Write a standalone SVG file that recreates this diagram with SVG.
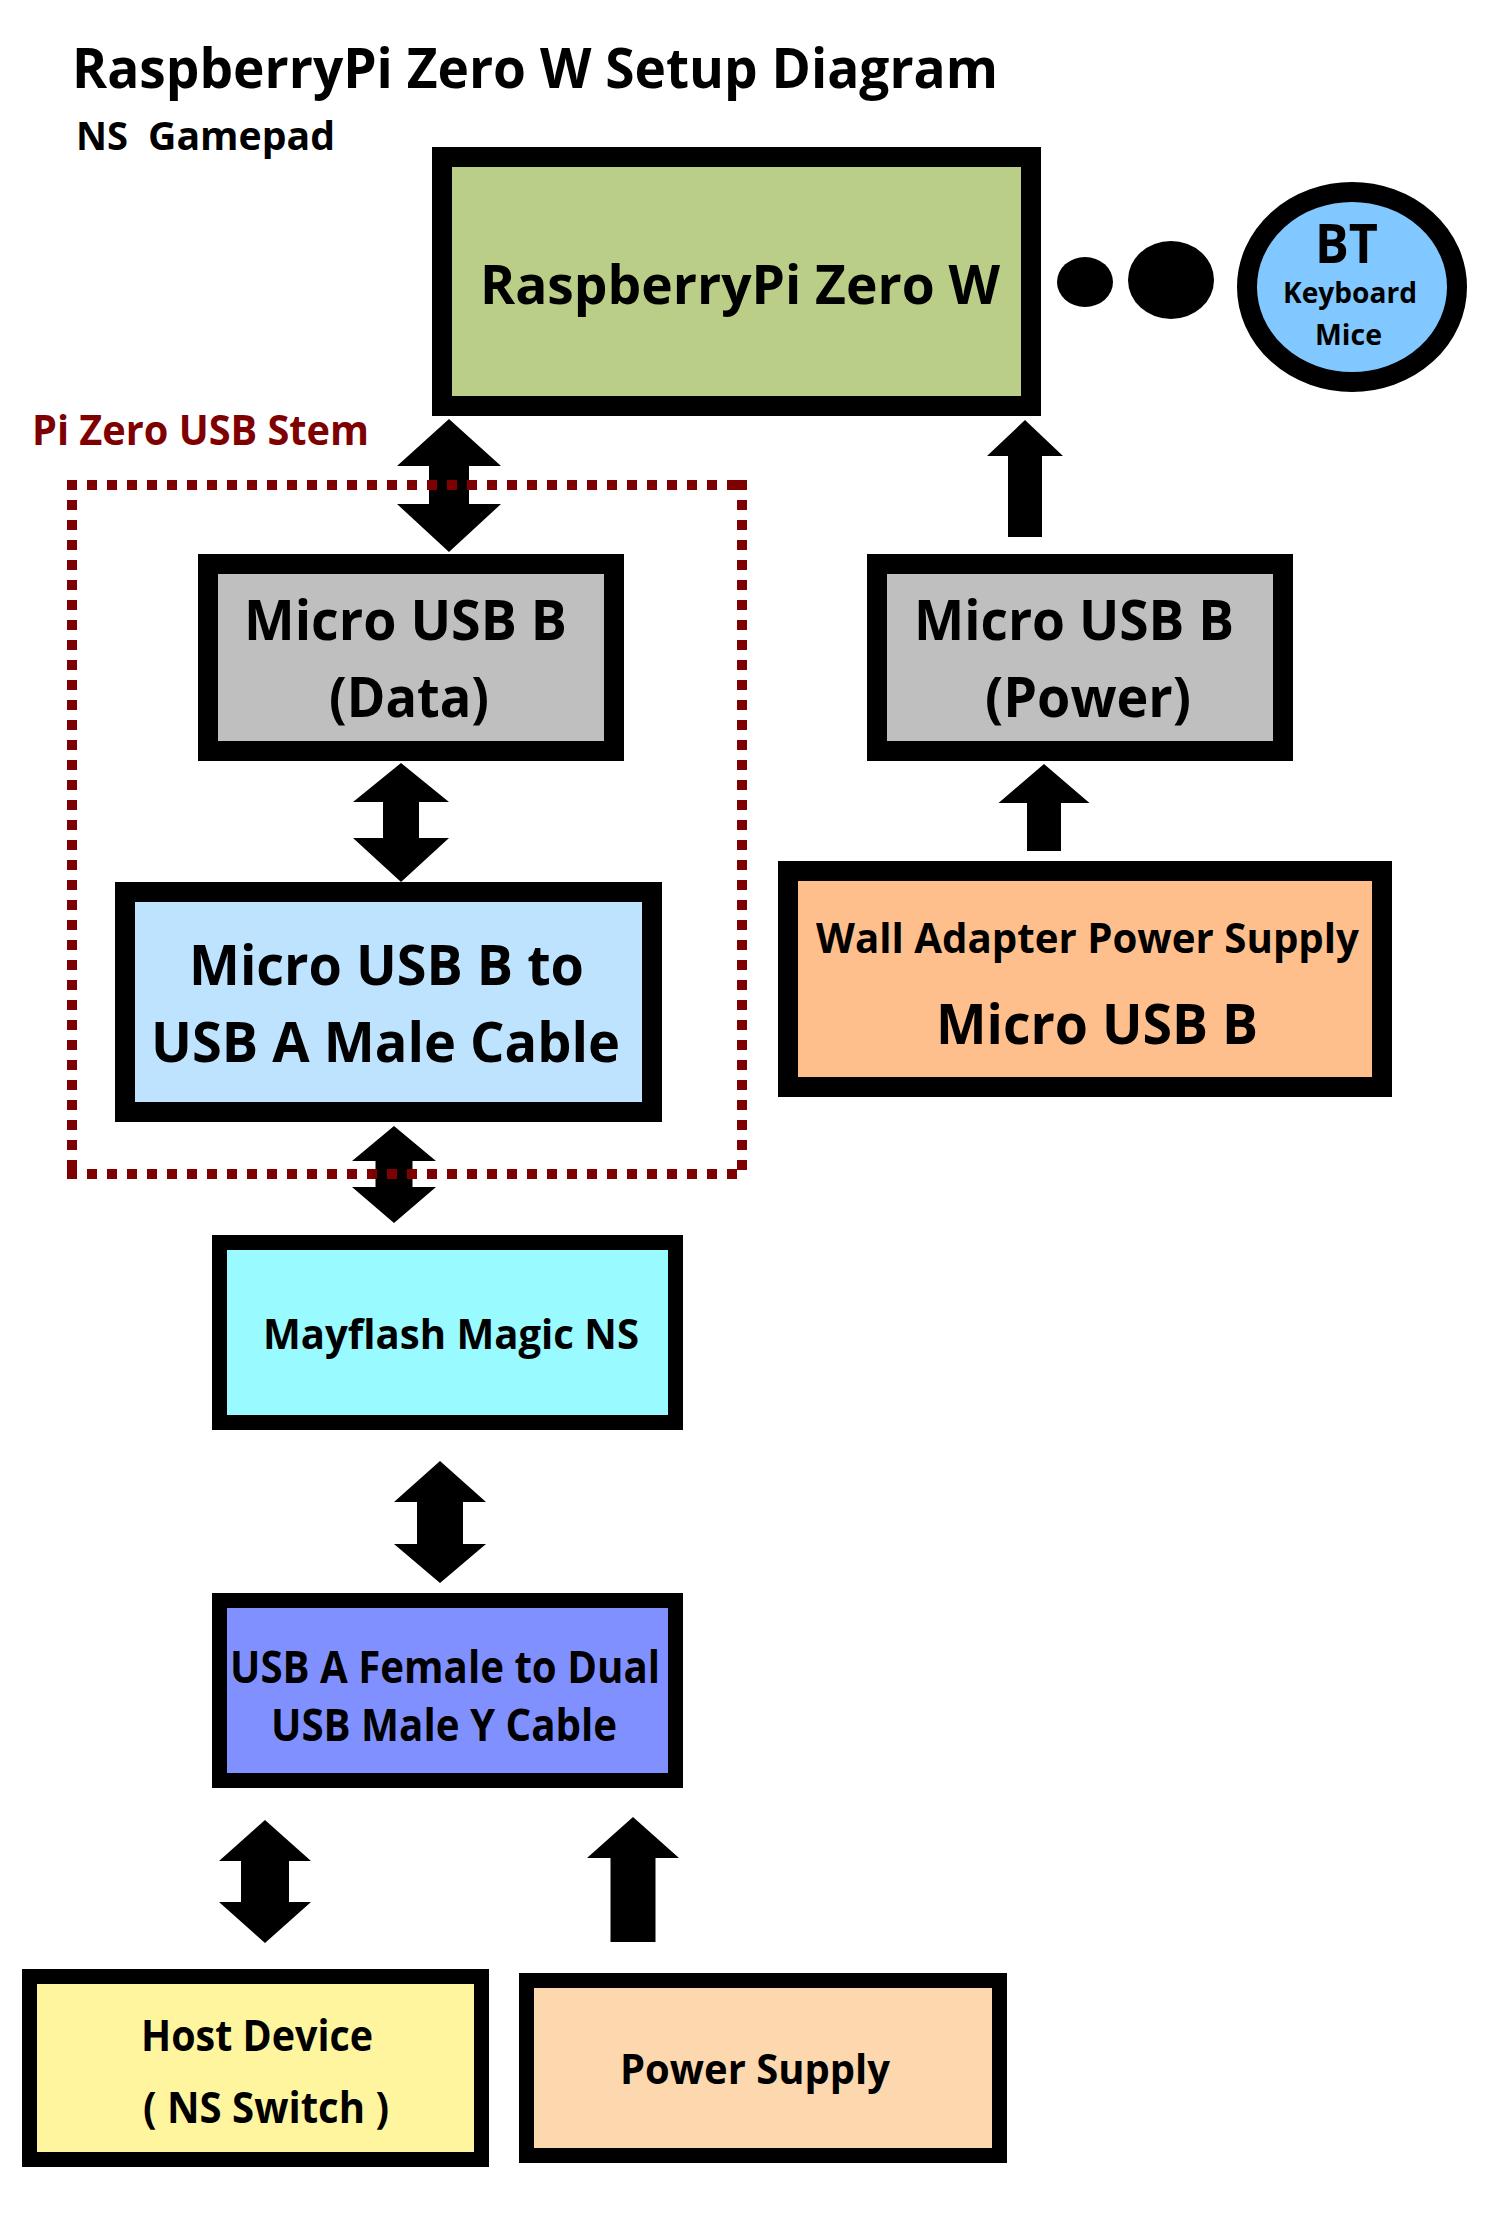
<svg xmlns="http://www.w3.org/2000/svg" width="1500" height="2240" viewBox="0 0 1500 2240">
<style>
text{font-family:"Open Sans","Liberation Sans",sans-serif;font-weight:700;fill:#000}
.box{stroke:#000;stroke-width:20}
.thin{stroke:#000;stroke-width:15}
.arr{fill:#000}
.stem{fill:none;stroke:#7F0000;stroke-width:10;stroke-dasharray:0 20;stroke-linecap:square}
</style>
<rect width="1500" height="2240" fill="#fff"/>
<g id="title">
<text x="72" y="88" font-size="55" textLength="926" lengthAdjust="spacingAndGlyphs">RaspberryPi Zero W Setup Diagram</text>
<text x="76" y="150" font-size="39"><tspan textLength="52" lengthAdjust="spacingAndGlyphs">NS</tspan> <tspan x="148" textLength="187" lengthAdjust="spacingAndGlyphs">Gamepad</tspan></text>
</g>
<g id="pi">
<rect class="box" x="442" y="157" width="589" height="249" fill="#BBCE88"/>
<text x="480" y="304" font-size="53" textLength="520" lengthAdjust="spacingAndGlyphs">RaspberryPi Zero W</text>
</g>
<g id="bt-dots">
<ellipse cx="1085" cy="282" rx="28" ry="25"/>
<ellipse cx="1171" cy="280" rx="43" ry="39"/>
</g>
<g id="bt">
<ellipse cx="1352" cy="287" rx="105" ry="95" fill="#80C8FF" stroke="#000" stroke-width="20"/>
<text x="1315" y="263" font-size="53" textLength="63" lengthAdjust="spacingAndGlyphs">BT</text>
<text x="1283" y="303" font-size="28" textLength="134" lengthAdjust="spacingAndGlyphs">Keyboard</text>
<text x="1315" y="345" font-size="28" textLength="67" lengthAdjust="spacingAndGlyphs">Mice</text>
</g>
<g id="usb-data">
<rect class="box" x="208" y="564" width="406" height="187" fill="#BFBFBF"/>
<text x="244" y="640" font-size="56" textLength="323" lengthAdjust="spacingAndGlyphs">Micro USB B</text>
<text x="329" y="717" font-size="56" textLength="160" lengthAdjust="spacingAndGlyphs">(Data)</text>
</g>
<g id="usb-power">
<rect class="box" x="877" y="564" width="406" height="187" fill="#BFBFBF"/>
<text x="914" y="640" font-size="56" textLength="320" lengthAdjust="spacingAndGlyphs">Micro USB B</text>
<text x="985" y="717" font-size="56" textLength="206" lengthAdjust="spacingAndGlyphs">(Power)</text>
</g>
<g id="cable">
<rect class="box" x="125" y="892" width="527" height="220" fill="#BDE3FF"/>
<text x="189" y="985" font-size="56" textLength="395" lengthAdjust="spacingAndGlyphs">Micro USB B to</text>
<text x="151" y="1062" font-size="56" textLength="469" lengthAdjust="spacingAndGlyphs">USB A Male Cable</text>
</g>
<g id="wall">
<rect class="box" x="788" y="871" width="594" height="216" fill="#FFBF8C"/>
<text x="816" y="953" font-size="42" textLength="543" lengthAdjust="spacingAndGlyphs">Wall Adapter Power Supply</text>
<text x="936" y="1044" font-size="55" textLength="322" lengthAdjust="spacingAndGlyphs">Micro USB B</text>
</g>
<g id="mayflash">
<rect class="thin" x="219.5" y="1242.5" width="456" height="180" fill="#99FAFF"/>
<text x="263" y="1349" font-size="42" textLength="376" lengthAdjust="spacingAndGlyphs">Mayflash Magic NS</text>
</g>
<g id="ycable">
<rect class="thin" x="219.5" y="1600.5" width="456" height="180" fill="#8091FF"/>
<text x="230" y="1683" font-size="44" textLength="430" lengthAdjust="spacingAndGlyphs">USB A Female to Dual</text>
<text x="271" y="1741" font-size="44" textLength="346" lengthAdjust="spacingAndGlyphs">USB Male Y Cable</text>
</g>
<g id="host">
<rect class="thin" x="29.5" y="1976.5" width="452" height="183" fill="#FFF59E"/>
<text x="141" y="2051" font-size="43" textLength="232" lengthAdjust="spacingAndGlyphs">Host Device</text>
<text x="143" y="2123" font-size="43" textLength="246" lengthAdjust="spacingAndGlyphs">( NS Switch )</text>
</g>
<g id="power-supply">
<rect class="thin" x="526.5" y="1980.5" width="473" height="175" fill="#FDD8AE"/>
<text x="620" y="2084" font-size="42" textLength="270" lengthAdjust="spacingAndGlyphs">Power Supply</text>
</g>
<g id="connectors" class="arr">
<path d="M449,419 L501,466 L469,466 L469,504 L501,504 L449,552 L397,504 L429,504 L429,466 L397,466 Z"/>
<path d="M401,763 L449,802 L419,802 L419,838 L449,838 L401,882 L353,838 L383,838 L383,802 L353,802 Z"/>
<path d="M394,1126 L436,1161 L412.5,1161 L412.5,1187 L436,1187 L394,1223 L352,1187 L375.5,1187 L375.5,1161 L352,1161 Z"/>
<path d="M440,1461 L486,1502 L463,1502 L463,1544 L486,1544 L440,1583 L394,1544 L417,1544 L417,1502 L394,1502 Z"/>
<path d="M265,1820 L311,1861 L289,1861 L289,1902 L311,1902 L265,1943 L219,1902 L241,1902 L241,1861 L219,1861 Z"/>
<path d="M633,1817 L679,1858 L655.5,1858 L655.5,1942 L610.5,1942 L610.5,1858 L587,1858 Z"/>
<path d="M1025,420 L1063,456 L1042,456 L1042,537 L1008,537 L1008,456 L987,456 Z"/>
<path d="M1044,764 L1089.5,803 L1061,803 L1061,851 L1027,851 L1027,803 L998.5,803 Z"/>
</g>
<g id="pi-zero-usb-stem">
<path class="stem" d="M72,485 H742"/>
<path class="stem" d="M72,485 V1174"/>
<path class="stem" d="M742,485 V1174"/>
<path class="stem" d="M72,1174 H742"/>
<text x="32" y="445" font-size="42" textLength="337" lengthAdjust="spacingAndGlyphs" style="fill:#7F0000">Pi Zero USB Stem</text>
</g>
</svg>
